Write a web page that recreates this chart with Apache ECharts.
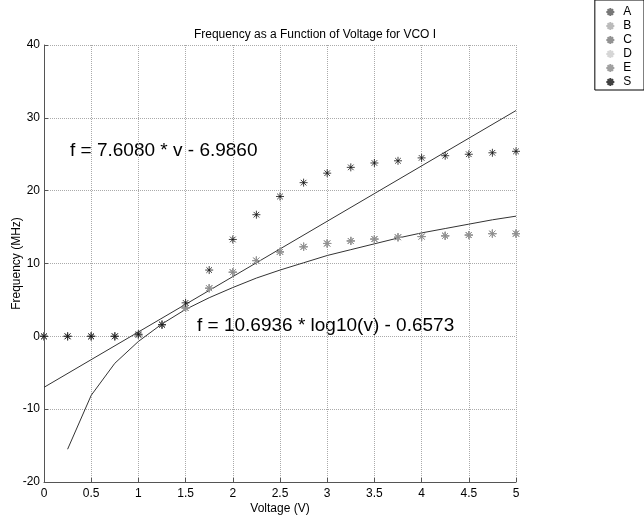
<!DOCTYPE html>
<html>
<head>
<meta charset="utf-8">
<script src="https://cdn.jsdelivr.net/npm/echarts@6/dist/echarts.min.js"></script>
<style>
  html, body { margin: 0; padding: 0; background: #fff; }
  #chart { width: 644px; height: 519px; }
</style>
</head>
<body>
<div id="chart"></div>
<script>
// measured points, voltage steps of 0.25 V
var voltage = [0, 0.25, 0.5, 0.75, 1, 1.25, 1.5, 1.75, 2, 2.25, 2.5, 2.75, 3, 3.25, 3.5, 3.75, 4, 4.25, 4.5, 4.75, 5];
var freqLow = [0, 0, 0, 0, 0.2, 1.6, 3.9, 6.6, 8.8, 10.4, 11.6, 12.3, 12.75, 13.1, 13.35, 13.6, 13.7, 13.8, 13.9, 14.1, 14.1];
var freqS = [0, 0, 0, 0, 0.3, 1.6, 4.6, 9.1, 13.3, 16.7, 19.2, 21.1, 22.4, 23.2, 23.8, 24.1, 24.5, 24.8, 25.0, 25.2, 25.4];
// fitted curves as drawn
var linFitV = [0, 5];
var linFitF = [-7.0, 31.0];
var logFitV = [0.25, 0.5, 0.75, 1, 1.25, 1.5, 1.75, 2, 2.25, 2.5, 2.75, 3, 3.25, 3.5, 3.75, 4, 4.25, 4.5, 4.75, 5];
var logFitF = [-15.5, -8.1, -3.7, -0.7, 1.7, 3.7, 5.3, 6.7, 8.0, 9.1, 10.1, 11.1, 11.9, 12.7, 13.5, 14.2, 14.8, 15.4, 16.0, 16.5];

var seriesNames = ['A', 'B', 'C', 'D', 'E', 'S'];
var seriesColors = ['#555', '#aaa', '#777', '#ccc', '#888', '#111'];

var star = 'path://M0,-10L0,10M-10,0L10,0M-7,-7L7,7M-7,7L7,-7';
var font = 'Liberation Sans, Arial, sans-serif';

function pairs(xs, ys) {
    var out = [];
    for (var i = 0; i < xs.length; i++) {
        out.push([xs[i], ys[i]]);
    }
    return out;
}

var series = [];
for (var i = 0; i < seriesNames.length; i++) {
    series.push({
        name: seriesNames[i],
        type: 'scatter',
        data: pairs(voltage, seriesNames[i] == 'S' ? freqS : freqLow),
        symbol: star,
        symbolSize: 8,
        itemStyle: {color: 'none', borderColor: seriesColors[i], borderWidth: 1},
        z: 3 + i
    });
}
series.push({
    name: 'linfit', type: 'line', data: pairs(linFitV, linFitF),
    showSymbol: false, lineStyle: {color: '#333', width: 1}, z: 2
});
series.push({
    name: 'logfit', type: 'line', data: pairs(logFitV, logFitF),
    showSymbol: false, lineStyle: {color: '#333', width: 1}, z: 2
});

var chart = echarts.init(document.getElementById('chart'));
chart.setOption({
    animation: false,
    textStyle: {fontFamily: font},
    title: {
        text: 'Frequency as a Function of Voltage for VCO I',
        left: 310, top: 24, textAlign: 'center',
        textStyle: {fontSize: 12, fontWeight: 'normal', color: '#000', fontFamily: font}
    },
    legend: {
        data: seriesNames,
        orient: 'vertical',
        right: 0, top: 0,
        padding: [5, 12, 1, 9],
        itemGap: 0,
        itemWidth: 8, itemHeight: 8,
        borderColor: '#000', borderWidth: 1,
        backgroundColor: '#fff',
        textStyle: {fontSize: 12, lineHeight: 14, color: '#000', fontFamily: font, padding: [0, 0, 0, 4]}
    },
    grid: {left: 44, right: 128, top: 45, bottom: 37, outerBoundsMode: 'none'},
    xAxis: {
        type: 'value', min: 0, max: 5, interval: 0.5,
        name: 'Voltage (V)', nameLocation: 'middle', nameGap: 21,
        nameMoveOverlap: false,
        nameTextStyle: {fontSize: 12, color: '#000'},
        axisLine: {onZero: false, lineStyle: {color: '#555'}},
        axisTick: {inside: true, length: 4, lineStyle: {color: '#555'}},
        axisLabel: {fontSize: 12, color: '#000', margin: 6},
        splitLine: {lineStyle: {type: 'dotted', color: '#aaa'}}
    },
    yAxis: {
        type: 'value', min: -20, max: 40, interval: 10,
        name: 'Frequency (MHz)', nameLocation: 'middle', nameGap: 21,
        nameMoveOverlap: false,
        nameTextStyle: {fontSize: 12, color: '#000'},
        axisLine: {show: true, lineStyle: {color: '#555'}},
        axisTick: {show: true, inside: true, length: 4, lineStyle: {color: '#555'}},
        axisLabel: {fontSize: 12, color: '#000', margin: 4},
        splitLine: {lineStyle: {type: 'dotted', color: '#aaa'}}
    },
    graphic: [
        {type: 'text', left: 70, top: 141,
         style: {text: 'f = 7.6080 * v - 6.9860', fontSize: 19, fill: '#000', fontFamily: font}},
        {type: 'text', left: 197, top: 316,
         style: {text: 'f = 10.6936 * log10(v) - 0.6573', fontSize: 19, fill: '#000', fontFamily: font}}
    ],
    series: series
});
</script>
</body>
</html>
